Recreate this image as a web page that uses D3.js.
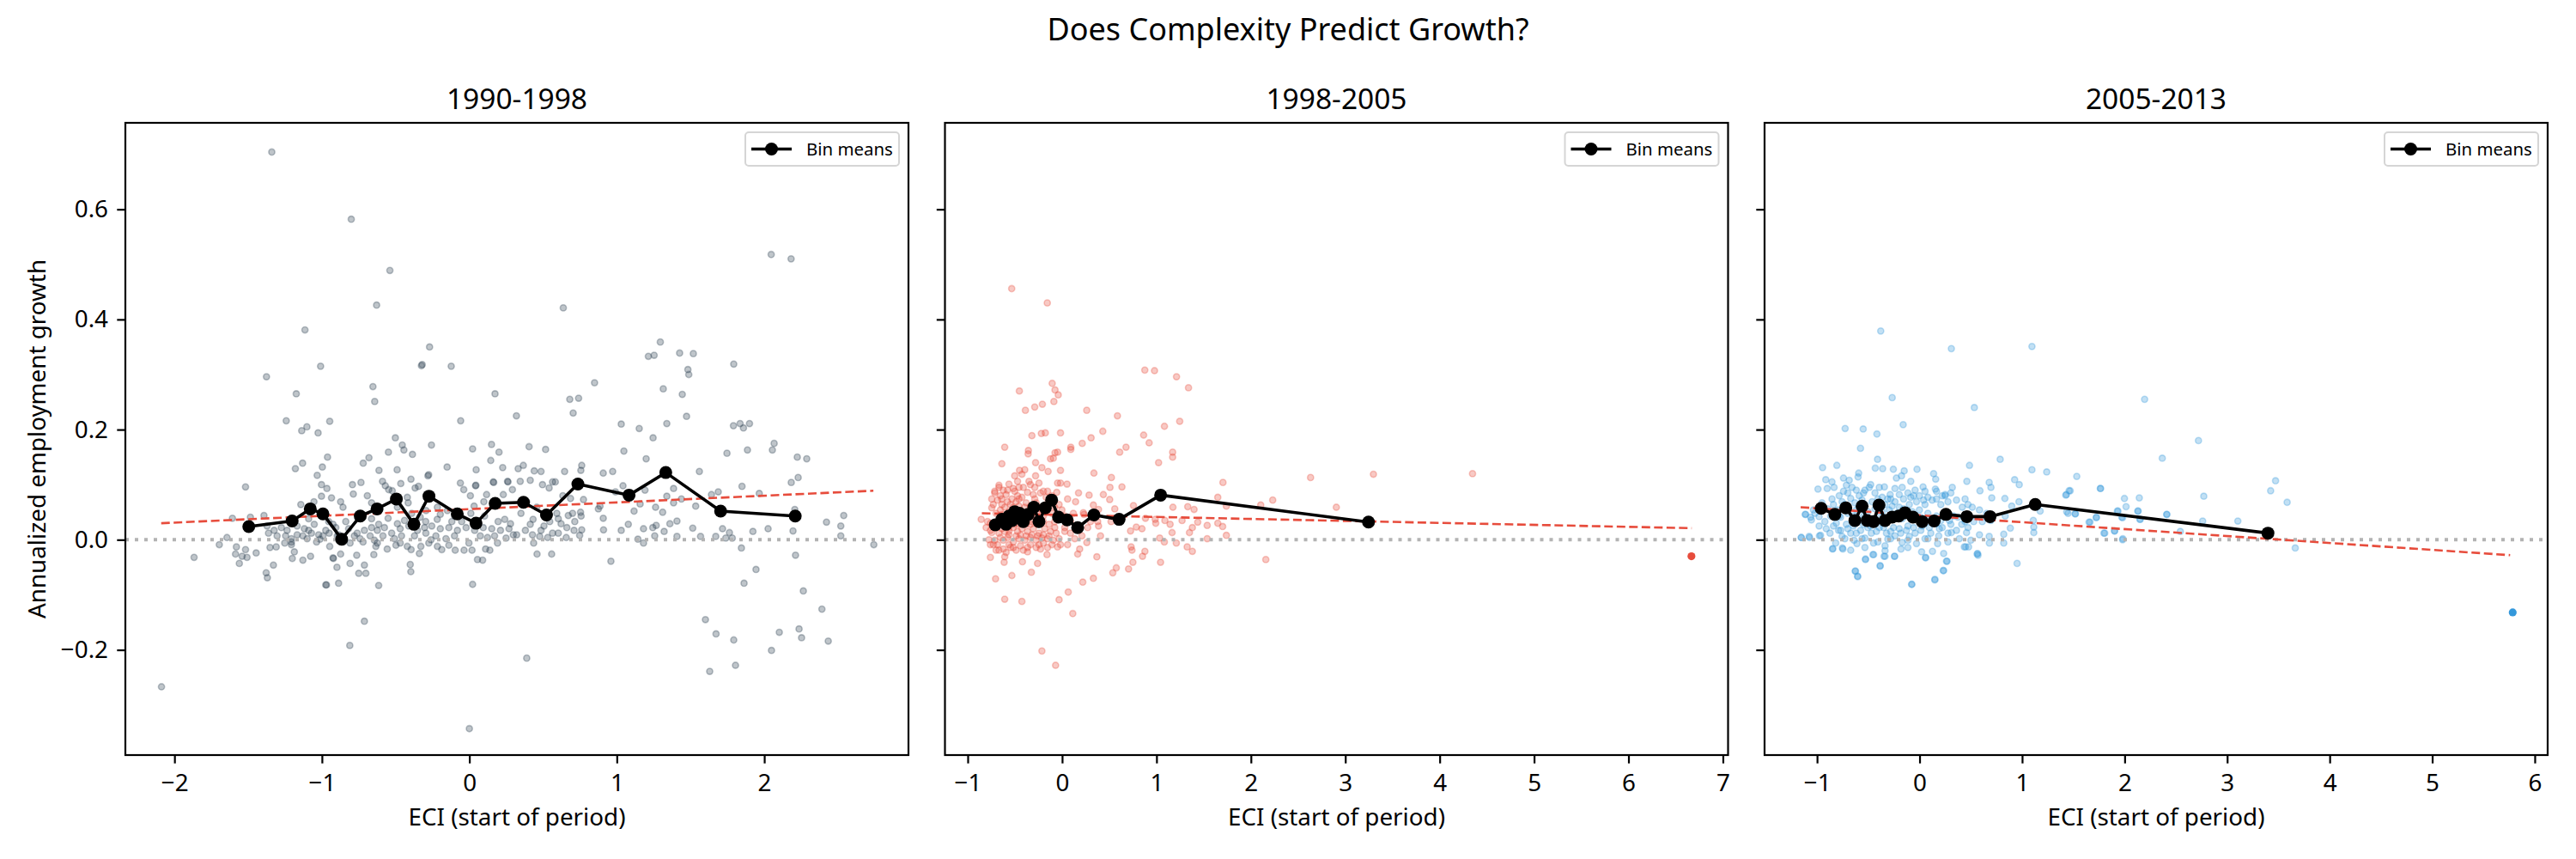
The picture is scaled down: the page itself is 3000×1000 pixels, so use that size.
<!DOCTYPE html>
<html>
<head>
<meta charset="utf-8">
<script src="https://cdn.jsdelivr.net/npm/d3@7"></script>
<style>
  body { margin: 0; background: #fff; }
  svg { font-family: "Noto Sans", "Open Sans", sans-serif; }
</style>
</head>
<body>
<svg id="chart" width="3000" height="1000"></svg>
<script>
// panel titles and colours
const periods = ['1990-1998', '1998-2005', '2005-2013'];
const pointColors = ['#2c3e50', '#e74c3c', '#3498db'];

// axis ranges and ticks
const yDomain = [-0.391, 0.757];
const yTicks = [-0.2, 0.0, 0.2, 0.4, 0.6];
const xDomain1990 = [-2.333, 2.978];
const xDomain1998 = [-1.241, 7.055];
const xDomain2005 = [-1.512, 6.126];
const xTicks1990 = [-2, -1, 0, 1, 2];
const xTicks1998 = [-1, 0, 1, 2, 3, 4, 5, 6, 7];
const xTicks2005 = [-1, 0, 1, 2, 3, 4, 5, 6];

// scatter: [ECI, annualized growth]
const scatter1990 = [
  [-1.340,0.704],[-0.801,0.582],[-0.539,0.489],[-0.629,0.426],[0.637,0.421],[2.047,0.518],[2.182,0.510],[-1.115,0.381],
  [-0.270,0.350],[1.295,0.359],[0.000,-0.343],
  [-0.325,0.316],[-0.320,0.318],[-0.123,0.315],[-1.009,0.315],[-1.376,0.296],[-1.174,0.265],[-0.654,0.278],[-0.642,0.251],
  [0.174,0.265],[0.319,0.225],[-1.242,0.216],[-0.947,0.215],[-1.137,0.198],[-1.102,0.205],[-1.026,0.194],[-0.059,0.216],
  [-0.502,0.185],[-0.455,0.172],[-0.444,0.163],[-0.257,0.172],[-0.386,0.155],[-0.549,0.159],[0.022,0.165],[0.150,0.173],
  [0.201,0.159],[0.145,0.144],[-0.962,0.150],[-0.681,0.149],[-0.720,0.139],[-0.997,0.132],[-1.131,0.139],[-1.180,0.129],
  [-0.613,0.126],[-0.490,0.127],[-0.151,0.132],[0.046,0.127],[0.226,0.131],[0.331,0.129],[-1.032,0.117],[-0.281,0.116],
  [-0.276,0.118],[-0.396,0.110],[-1.003,0.100],[-0.966,0.093],[-0.793,0.100],[-0.735,0.104],[-0.589,0.106],[-0.570,0.098],
  [-0.465,0.102],[-0.345,0.097],[-0.061,0.103],[0.042,0.098],[0.044,0.099],[0.162,0.105],[0.165,0.104],[0.259,0.106],
  [0.262,0.105],[0.292,0.091],[-1.518,0.096],[-0.787,0.083],[-0.692,0.080],[-0.547,0.091],[-0.523,0.089],[-1.003,0.079],
  [-0.935,0.076],[-0.873,0.069],[-1.143,0.064],[-1.054,0.069],[-0.663,0.067],[-0.421,0.077],[-0.368,0.094],[-0.038,0.091],
  [0.007,0.080],[0.117,0.082],[0.230,0.082],[0.032,0.061],[0.098,0.069],[-0.415,0.067],[-0.217,0.059],[-0.149,0.053],
  [0.010,0.048],[0.103,0.043],[0.195,0.033],[0.240,0.037],[0.279,0.029],[-0.052,0.033],[-0.119,0.033],[-0.218,0.037],
  [-0.296,0.033],[-0.333,0.041],[-0.440,0.035],[-0.488,0.029],[-0.551,0.039],[-0.615,0.028],[-0.663,0.022],[-0.712,0.017],
  [-0.761,0.012],[-0.819,0.020],[-0.838,0.033],[-0.906,0.022],[-0.951,0.012],[-0.993,0.007],[-1.052,0.028],[-1.090,0.017],
  [-1.129,0.007],[-1.168,0.009],[-1.207,0.002],[-1.246,0.007],[-1.275,0.022],[-1.324,0.017],[-1.362,0.012],[-1.372,0.025],
  [-1.393,0.044],[-1.485,0.041],[-1.607,0.039],[-1.644,0.004],[-1.696,-0.009],[-1.867,-0.032],[-1.580,-0.013],[-1.586,-0.026],
  [-1.560,-0.043],[-1.518,-0.018],[-1.508,-0.032],[-1.541,-0.030],[-1.446,-0.024],[-1.352,-0.014],[-1.310,-0.013],[-1.329,-0.046],
  [-1.378,-0.060],[-1.370,-0.069],[-1.201,-0.034],[-1.187,-0.022],[-1.129,-0.037],[-1.077,-0.030],[-1.207,-0.009],[-1.252,-0.006],
  [-1.100,0.002],[-1.036,-0.004],[-0.947,-0.012],[-0.974,-0.082],[-0.969,-0.082],[-0.887,-0.079],[-0.898,-0.050],[-0.925,-0.033],
  [-0.922,-0.034],[-0.873,-0.026],[-0.809,-0.043],[-0.764,-0.028],[-0.712,-0.046],[-0.750,-0.061],[-0.702,-0.061],[-0.615,-0.083],
  [-0.648,-0.027],[-0.634,-0.012],[-0.557,-0.017],[-0.498,-0.010],[-0.421,-0.012],[-0.395,-0.018],[-0.401,-0.045],[-0.397,-0.058],
  [-0.339,-0.025],[-0.329,-0.012],[-0.260,0.000],[-0.217,-0.012],[-0.187,-0.018],[-0.139,-0.010],[-0.096,-0.019],[-0.036,-0.019],
  [0.018,-0.019],[0.055,-0.036],[0.090,-0.037],[0.110,-0.017],[0.139,-0.019],[0.022,-0.081],[-0.712,-0.148],[-0.811,-0.192],
  [-2.088,-0.267],[0.074,0.007],[0.123,0.004],[0.171,0.007],[0.249,0.003],[0.298,0.009],[-0.101,0.007],[-0.159,0.002],
  [-0.227,0.007],[-0.295,0.012],[-0.372,0.007],[-0.460,0.007],[-0.508,0.002],[-0.586,0.007],[-0.644,-0.001],[-0.741,0.002],
  [-0.809,-0.006],[-0.857,-0.004],[-0.896,0.007],
  [-1.304,0.007],[-1.236,0.017],[-1.168,0.025],[-1.119,0.020],[-1.071,0.012],[-1.022,0.009],[-0.974,0.017],[-0.925,0.028],
  [-0.886,0.009],[-0.780,0.007],[-0.721,-0.004],[-0.673,0.007],[-0.624,0.017],[-0.576,0.022],[-0.527,0.012],[-0.469,0.020],
  [-0.411,0.025],[-0.352,0.017],[-0.304,0.022],[-0.255,0.025],[-0.197,0.020],[-0.139,0.022],[-0.081,0.017],[-0.022,0.022],
  [0.036,0.017],[0.094,0.022],[0.152,0.020],[0.211,0.017],[0.269,0.020],[-1.187,0.033],[-1.090,0.038],[-0.954,0.033],
  [-0.663,0.038],[-0.391,0.048],[-0.197,0.046],[-0.100,0.043],[-1.013,0.001],[-1.207,-0.004],[-0.003,-0.006],[0.191,-0.006],
  [-0.624,-0.006],[-0.469,-0.006],[-0.275,-0.006],[-0.857,0.059],[-0.488,0.059],[-0.294,0.053],
  [1.214,0.333],[1.253,0.335],[1.426,0.339],[1.519,0.338],[1.793,0.319],[1.482,0.309],[1.488,0.300],[0.849,0.285],
  [1.315,0.274],[1.444,0.264],[0.681,0.255],[0.741,0.257],[0.704,0.230],[1.473,0.224],[1.030,0.210],[1.152,0.202],
  [1.339,0.211],[1.791,0.207],[1.836,0.211],[1.859,0.203],[1.900,0.211],[1.246,0.185],[0.405,0.169],[0.517,0.164],
  [1.048,0.161],[1.747,0.157],[1.886,0.163],[2.067,0.175],[2.055,0.163],[1.199,0.147],[2.224,0.150],[2.288,0.147],
  [0.366,0.135],[0.440,0.125],[0.486,0.124],[0.646,0.124],[0.762,0.135],[0.756,0.126],[0.908,0.121],[0.972,0.124],
  [1.560,0.124],[0.345,0.106],[0.413,0.108],[0.496,0.100],[0.564,0.105],[0.583,0.105],[0.541,0.094],[1.042,0.098],
  [0.991,0.087],[1.191,0.090],[1.385,0.093],[1.849,0.097],[2.183,0.104],[2.230,0.113],[1.642,0.082],[1.688,0.087],
  [1.966,0.084],[0.634,0.080],[0.686,0.075],[0.774,0.073],[0.886,0.061],[0.875,0.056],[1.158,0.065],[1.339,0.079],
  [1.385,0.067],[1.438,0.074],[1.535,0.061],[1.263,0.059],[1.311,0.050],[1.117,0.052],[0.908,0.039],[0.593,0.048],
  [0.671,0.044],[0.754,0.050],[0.758,0.043],[0.432,0.037],[0.413,0.028],[0.506,0.025],[0.622,0.029],[0.715,0.033],
  [1.078,0.028],[1.267,0.026],[1.360,0.029],[1.408,0.034],[2.207,0.055],[2.422,0.032],[2.539,0.044],[2.519,0.025],
  [2.519,0.007],[0.321,0.009],[0.428,0.009],[0.477,0.006],[0.531,0.004],[0.603,0.012],[0.710,0.017],[0.762,0.018],
  [0.657,0.004],[0.748,0.008],[0.910,0.018],[1.030,0.017],[1.181,0.020],[1.244,0.022],[1.321,0.015],[1.257,0.007],
  [1.143,0.001],[1.181,-0.006],[1.408,0.006],[1.515,0.021],[1.568,0.006],[1.671,0.006],[1.717,0.020],[1.764,0.013],
  [1.739,0.003],[1.783,0.003],[1.923,0.015],[2.026,0.020],[2.195,0.016],[2.743,-0.009],[0.436,-0.006],[0.459,-0.026],
  [0.558,-0.026],[0.960,-0.039],[1.845,-0.015],[2.212,-0.028],[1.944,-0.054],[1.863,-0.079],[2.265,-0.093],[2.391,-0.126],
  [1.601,-0.145],[1.673,-0.171],[1.793,-0.182],[2.102,-0.168],[2.236,-0.162],[2.253,-0.178],[2.434,-0.184],[2.049,-0.201],
  [1.630,-0.239],[1.805,-0.228],[0.389,-0.215],
  [0.350,0.048],[0.389,0.069],[0.457,0.059],[0.545,0.033],[0.603,0.038],[0.661,0.022],[0.380,0.017],[0.486,0.017],
  [0.564,0.012],[0.700,0.048]
];

const scatter1998 = [
  [-0.534,0.456],[-0.157,0.430],[0.876,0.308],[0.979,0.307],[1.212,0.296],[1.339,0.276],[-0.453,0.270],[-0.105,0.284],
  [-0.075,0.272],[-0.041,0.263],[-0.087,0.251],[-0.209,0.246],[-0.290,0.241],[-0.389,0.235],[0.261,0.235],[0.586,0.225],
  [1.246,0.215],[1.084,0.206],
  [-0.320,0.189],[-0.220,0.193],[-0.178,0.194],[-0.017,0.194],[0.431,0.197],[0.864,0.190],[0.922,0.176],[-0.608,0.168],
  [-0.357,0.162],[-0.360,0.156],[0.092,0.168],[0.092,0.164],[0.213,0.175],[0.307,0.185],[0.610,0.159],[0.677,0.168],
  [1.171,0.159],[1.171,0.150],[1.022,0.140],[-0.075,0.158],[-0.048,0.159],[-0.093,0.148],[-0.123,0.147],[-0.638,0.138],
  [-0.281,0.140],[-0.214,0.131],[-0.148,0.124],[-0.017,0.126],[-0.451,0.126],[-0.396,0.127],[-0.502,0.116],[-0.426,0.119],
  [-0.281,0.116],[0.337,0.121],[0.522,0.113],[-0.472,0.106],[-0.336,0.100],[-0.245,0.103],[-0.048,0.103],[-0.017,0.103],
  [0.052,0.101],[0.507,0.095],[0.634,0.096],[1.704,0.104],[-0.669,0.099],[-0.563,0.101],[-0.714,0.088],[-0.623,0.090],
  [-0.517,0.093],[-0.366,0.086],[-0.154,0.088],[-0.057,0.086],[0.174,0.085],[0.286,0.081],[0.437,0.082],[1.649,0.077],
  [2.231,0.072],[-0.745,0.074],[-0.639,0.074],[-0.457,0.074],[-0.290,0.074],[0.058,0.074],[0.143,0.069],[0.504,0.073],
  [0.756,0.062],[1.174,0.059],[1.331,0.060],[1.398,0.055],[1.740,0.061],[2.104,0.063],[0.558,0.056],[-0.745,0.058],
  [0.225,0.049],[0.331,0.063],[0.386,0.055],[-0.857,0.037],[-0.760,0.030],[-0.563,0.016],[-0.336,0.028],[-0.199,0.043],
  [-0.078,0.022],[0.028,0.015],[0.119,0.048],[0.231,0.046],[0.377,0.033],[0.386,0.025],[0.407,0.007],[0.519,0.033],
  [0.725,0.016],[0.786,0.023],[0.846,0.020],[0.883,0.039],[0.986,0.037],[0.992,0.030],[1.089,0.035],[1.144,0.028],
  [1.165,0.013],[1.271,0.035],[1.349,0.013],[1.380,0.022],[1.437,0.032],[1.537,0.026],[1.649,0.030],[1.701,0.024],
  [1.740,0.008],[1.537,0.002],[1.034,0.003],[1.083,-0.004],[1.210,-0.006],[1.325,-0.013],[1.380,-0.021],[0.731,-0.013],
  [0.740,-0.019],[0.877,-0.021],[0.852,-0.030],[0.750,-0.041],[0.704,-0.053],[1.043,-0.041],[0.574,-0.051],[0.537,-0.060],
  [0.368,-0.031],[0.331,-0.070],[0.219,-0.077],[0.262,-0.005],[0.165,-0.026],[0.186,-0.017],[0.065,-0.095],[-0.032,-0.109],
  [0.113,-0.134],[-0.260,-0.043],[-0.326,-0.059],[-0.420,-0.040],[-0.532,-0.065],[-0.608,-0.108],[-0.426,-0.112],[-0.705,-0.071],
  [-0.760,-0.032],[-0.669,-0.019],[-0.608,-0.031],[-0.614,-0.041],[-0.760,-0.009],[-0.775,0.000],[-0.547,-0.014],[-0.411,-0.019],
  [-0.366,-0.022],[-0.229,-0.017],[-0.160,-0.027],[-0.048,-0.013],[0.058,-0.009],[-0.214,-0.202],[-0.069,-0.228],[2.158,-0.036],
  [-0.714,-0.001],[-0.669,0.012],[-0.623,-0.001],[-0.578,0.004],[-0.517,-0.004],[-0.457,0.002],[-0.396,-0.001],[-0.335,0.004],
  [-0.275,-0.001],[-0.214,0.003],[-0.154,0.002],[-0.093,-0.001],[-0.032,0.002],[-0.699,0.022],[-0.638,0.020],[-0.593,0.028],
  [-0.517,0.022],[-0.472,0.015],[-0.426,0.020],[-0.366,0.015],[-0.305,0.020],[-0.245,0.012],[-0.184,0.020],[-0.123,0.015],
  [-0.063,0.012],[-0.699,0.048],[-0.654,0.054],[-0.608,0.059],[-0.548,0.064],[-0.487,0.069],[-0.426,0.077],[-0.381,0.067],
  [-0.335,0.061],[-0.275,0.067],[-0.214,0.054],[-0.169,0.064],[-0.108,0.048],[-0.032,0.064],[-0.002,0.054],[0.028,0.043],
  [0.089,0.033],[0.149,0.022],[0.210,0.007],[0.271,0.022],[0.301,0.033],[-0.714,0.085],[-0.654,0.080],[-0.593,0.082],
  [-0.532,0.074],[-0.472,0.080],[-0.411,0.095],[-0.351,0.106],[-0.290,0.095],[-0.229,0.085],[-0.169,0.077],[-0.108,0.080],
  [-0.487,0.048],[-0.426,0.043],[-0.335,0.043],[-0.275,0.038],[-0.548,0.033],[-0.457,0.028],[-0.684,-0.009],[-0.623,-0.017],
  [-0.563,-0.009],[-0.487,-0.019],[-0.335,-0.009],[-0.275,-0.014],[-0.199,-0.006],[-0.108,-0.009],
  [-0.745,0.013],[-0.729,-0.009],[-0.654,0.004],[-0.608,0.015],[-0.563,0.009],[-0.487,0.007],[-0.441,0.009],[-0.381,0.007],
  [-0.320,0.009],[-0.260,0.007],[-0.199,0.009],[-0.138,0.007],[-0.729,0.028],[-0.669,0.033],[-0.623,0.028],[-0.563,0.022],
  [-0.502,0.028],[-0.441,0.033],[-0.381,0.028],[-0.320,0.033],[-0.260,0.028],[-0.199,0.033],[-0.138,0.028],[-0.078,0.033],
  [-0.729,0.064],[-0.684,0.072],[-0.638,0.064],[-0.578,0.069],[-0.517,0.059],[-0.457,0.061],[-0.396,0.059],[-0.305,0.054],
  [-0.245,0.059],[-0.154,0.054],[-0.078,0.059],[-0.669,0.095],[-0.578,0.090],[-0.502,0.088],[-0.457,0.095],[-0.305,0.082],
  [-0.199,0.088],[-0.699,-0.019],[-0.593,-0.023],[-0.517,-0.014],[-0.441,-0.011],[-0.366,-0.014],[-0.245,-0.009],[-0.154,-0.014],
  [-0.638,0.046],[-0.563,0.051],[-0.366,0.043],[-0.245,0.046],[-0.048,0.041],[0.028,0.022],[0.089,0.012],[0.134,0.002],
  [-0.017,-0.009],[-0.760,0.017],[-0.805,0.022],[-0.790,0.033],
  [4.348,0.120],[3.298,0.119],[2.632,0.113],[2.905,0.059]
];

const scatter2005 = [
  [-0.379,0.379],[0.310,0.347],[1.096,0.351],[-0.267,0.258],[0.534,0.240],[2.195,0.255],[-0.160,0.209],[-0.726,0.202],
  [-0.550,0.201],[2.720,0.180],[-0.416,0.192],[-0.576,0.166],[2.367,0.148],[0.786,0.146],[0.487,0.135],[1.096,0.127],
  [1.240,0.123],[1.533,0.115],[3.472,0.107],[3.424,0.089],[3.585,0.068],[1.763,0.093],[1.458,0.089],[1.426,0.081],
  [1.998,0.075],[2.143,0.076],[2.772,0.079],[2.014,0.060],[2.132,0.052],[1.929,0.052],[2.410,0.046],[1.972,0.041],
  [2.148,0.037],[2.761,0.034],[3.104,0.034],[1.448,0.048],[1.518,0.047],[1.725,0.041],[1.662,0.032],[1.902,0.016],
  [1.806,0.012],[1.982,0.002],[2.543,0.015],[3.664,-0.015],[0.951,-0.043],[-0.075,-0.081],[0.150,-0.072],[-0.625,-0.057],
  [-0.603,-0.067],[-0.384,-0.048],[-0.528,-0.036],[-0.849,-0.017],[-0.753,-0.015],[0.230,-0.056],[0.262,-0.039],[0.058,-0.032],
  [0.566,-0.025],[0.449,-0.013],[-0.347,-0.030],[-0.245,-0.030],[-0.448,-0.027],[-1.153,0.004],[-1.074,0.004],[-0.977,0.007],
  [-1.116,0.046],[-0.946,0.131],[-0.807,0.135],
  [-0.410,0.146],[-0.432,0.130],[-0.360,0.129],[-0.256,0.128],[-0.150,0.125],[-0.025,0.128],[-0.594,0.121],[-0.600,0.114],
  [-0.742,0.112],[-0.686,0.108],[-0.915,0.109],[-0.854,0.105],[-0.226,0.112],[-0.176,0.116],[-0.086,0.106],[0.137,0.120],
  [0.157,0.110],[0.461,0.106],[0.679,0.104],[0.696,0.095],[0.927,0.109],[0.972,0.100],[-0.991,0.092],[-0.901,0.093],
  [-0.834,0.095],[-0.714,0.099],[-0.491,0.095],[-0.393,0.095],[-0.343,0.096],[-0.287,0.082],[-0.198,0.082],[-0.114,0.085],
  [0.034,0.096],[0.154,0.092],[0.249,0.082],[0.319,0.095],[0.589,0.089],[0.704,0.076],[0.832,0.075],[1.432,0.082],
  [1.469,0.089],[1.765,0.093],[1.935,0.052],[2.128,0.052],[2.412,0.046],[1.980,0.040],[2.153,0.037],[1.723,0.040],
  [1.653,0.032],[1.798,0.012],[1.902,0.016],[1.980,0.000],[1.435,0.051],[1.519,0.047],[1.109,0.035],[1.114,0.023],
  [1.114,0.013],[1.176,0.052],[0.969,0.069],[0.899,0.061],[0.835,0.043],[0.885,0.021],[0.821,0.010],[0.821,-0.006],
  [0.679,0.006],[0.681,-0.006],[0.584,0.009],[0.500,-0.001],[0.436,-0.013],[0.478,-0.013],[0.561,-0.026],[0.570,-0.028],
  [0.235,-0.025],[0.268,-0.039],[0.235,-0.056],[0.148,-0.073],[-0.078,-0.081],[0.059,-0.033],[0.020,-0.022],[0.126,-0.021],
  [0.176,-0.007],[-0.243,-0.030],[-0.181,-0.017],[-0.337,-0.020],[-0.337,-0.030],[-0.385,-0.047],[-0.455,-0.027],[-0.527,-0.035],
  [-0.605,-0.066],[-0.628,-0.057],[-0.611,-0.007],[-0.748,-0.017],[-0.846,-0.016],[-0.818,-0.006],[-0.966,0.008],[-1.077,0.006],
  [-1.155,0.004],[-1.111,0.046],[-1.055,0.036],[-0.980,0.042],[-0.924,0.033],[-0.874,0.012],[-0.790,0.017],[-0.756,0.006],
  [-0.672,0.012],[-0.639,-0.001],[-0.533,0.003],[-0.471,0.012],[-0.407,-0.004],[-0.310,0.001],[-0.240,0.007],[-0.170,-0.005],
  [-0.100,0.006],[-0.030,-0.007],[0.053,0.002],[0.187,0.007],[0.310,0.013],[0.388,0.002],[0.458,0.013],[0.472,0.022],
  [0.411,0.028],[0.305,0.028],[0.221,0.022],[0.165,0.029],[0.095,0.022],[0.012,0.017],[-0.058,0.022],[-0.128,0.017],
  [-0.198,0.020],[-0.282,0.015],[-0.351,0.022],[-0.421,0.015],[-0.505,0.022],[-0.575,0.017],[-0.645,0.025],[-0.714,0.028],
  [-0.812,0.030],[-0.868,0.043],[-0.798,0.054],[-0.728,0.064],[-0.672,0.075],[-0.589,0.080],[-0.533,0.064],[-0.463,0.069],
  [-0.337,0.064],[-0.268,0.061],[-0.198,0.059],[-0.100,0.064],[-0.030,0.069],[0.053,0.064],[0.123,0.072],[0.207,0.064],
  [0.277,0.069],[0.360,0.072],[0.416,0.059],[0.514,0.059],[0.584,0.054],[0.654,0.048],[0.695,0.035],[0.612,0.033],
  [0.528,0.033],[0.333,0.043],[0.249,0.048],[0.165,0.043],[0.081,0.048],[-0.002,0.054],[-0.100,0.043],[-0.170,0.038],
  [-0.240,0.043],[-0.310,0.041],[-0.393,0.043],[-0.463,0.038],[-0.547,0.043],[-0.617,0.054],[-0.700,0.048],[-0.770,0.041],
  [-0.896,0.056],[-0.952,0.067],[-1.035,0.054],[-1.063,0.041],[-0.854,0.074],[-0.784,0.080],[-0.700,0.085],[-0.617,0.090],
  [-0.547,0.085],[-0.435,0.085],[-0.365,0.077],[-0.282,0.074],[-0.170,0.095],[-0.086,0.077],[-0.002,0.080],[0.081,0.077],
  [0.221,0.080],[0.305,0.085],[0.444,0.074],[0.472,0.064],
  [-1.021,0.048],[-0.980,0.025],[-0.910,0.020],[-0.840,0.025],[-0.770,0.017],[-0.700,0.020],[-0.617,0.012],[-0.547,0.028],
  [-0.477,0.025],[-0.393,0.022],[-0.323,0.012],[-0.254,0.022],[-0.184,0.012],[-0.114,0.025],[-0.044,0.012],[0.025,0.025],
  [0.109,0.012],[0.193,0.020],[0.277,0.012],[0.360,0.017],[0.444,0.033],[-0.784,0.043],[-0.714,0.054],[-0.645,0.043],
  [-0.575,0.056],[-0.505,0.051],[-0.435,0.056],[-0.365,0.051],[-0.296,0.054],[-0.226,0.048],[-0.156,0.056],[-0.072,0.051],
  [0.012,0.041],[0.095,0.038],[0.207,0.035],[0.291,0.035],[0.374,0.041],[-0.840,0.064],[-0.756,0.069],[-0.631,0.067],
  [-0.561,0.072],[-0.407,0.074],[-0.310,0.074],[-0.240,0.069],[-0.156,0.074],[-0.058,0.080],[0.039,0.072],[0.165,0.074],
  [0.249,0.080],[-0.742,0.088],[-0.659,0.095],[-0.533,0.090],[-0.477,0.100],[-0.240,0.093],[-0.044,0.090],[0.053,0.088],
  [0.165,0.088],[-0.728,0.002],[-0.561,0.002],[-0.449,-0.006],[-0.282,0.002],[-0.114,-0.001],[0.081,0.002],[0.277,-0.004],
  [-0.533,-0.014],[-0.337,-0.011],[-0.114,-0.014],[-0.672,-0.019]
];

// largest-ECI country, drawn solid
const highlight1998 = [[6.667, -0.030]];
const highlight2005 = [[5.785, -0.132]];

// bin means
const bins1990 = [
  [-1.496,0.024],[-1.202,0.034],[-1.079,0.056],[-0.993,0.047],[-0.866,0.001],[-0.740,0.043],[-0.626,0.056],[-0.495,0.074],
  [-0.376,0.028],[-0.274,0.079],[-0.082,0.047],[0.045,0.030],[0.175,0.066],[0.367,0.068],[0.523,0.045],[0.736,0.101],
  [1.083,0.081],[1.332,0.122],[1.704,0.052],[2.210,0.043]
];
const bins1998 = [
  [-0.708,0.027],[-0.638,0.037],[-0.593,0.028],[-0.563,0.043],[-0.530,0.035],[-0.502,0.051],[-0.451,0.048],[-0.411,0.033],
  [-0.360,0.046],[-0.299,0.059],[-0.245,0.033],[-0.178,0.058],[-0.111,0.072],[-0.038,0.041],[0.053,0.036],[0.165,0.022],
  [0.337,0.045],[0.604,0.037],[1.044,0.081],[3.246,0.032]
];
const bins2005 = [
  [-0.960,0.057],[-0.826,0.046],[-0.720,0.058],[-0.631,0.035],[-0.561,0.061],[-0.511,0.035],[-0.449,0.033],[-0.396,0.063],
  [-0.337,0.035],[-0.268,0.041],[-0.204,0.043],[-0.142,0.049],[-0.064,0.041],[0.025,0.033],[0.142,0.034],[0.257,0.046],
  [0.461,0.042],[0.687,0.042],[1.128,0.064],[3.398,0.012]
];

// OLS fit line end points
const fit1990 = [[-2.09, 0.030], [2.74, 0.089]];
const fit1998 = [[-0.85, 0.048], [6.67, 0.021]];
const fit2005 = [[-1.16, 0.059], [5.76, -0.028]];

const panels = [
  {title: periods[0], color: pointColors[0], scatter: scatter1990, highlight: [], bins: bins1990, fit: fit1990, xDomain: xDomain1990, xTicks: xTicks1990},
  {title: periods[1], color: pointColors[1], scatter: scatter1998, highlight: highlight1998, bins: bins1998, fit: fit1998, xDomain: xDomain1998, xTicks: xTicks1998},
  {title: periods[2], color: pointColors[2], scatter: scatter2005, highlight: highlight2005, bins: bins2005, fit: fit2005, xDomain: xDomain2005, xTicks: xTicks2005}
];

const svg = d3.select('#chart');
const lefts = [146, 1100.5, 2055];
const plotTop = 143, W = 912, H = 736;
const fontFamily = '"Noto Sans", "Open Sans", sans-serif';
const minus = s => s.replace('-', '\u2212');

svg.append('text')
  .attr('x', 1500).attr('y', 47)
  .attr('text-anchor', 'middle')
  .style('font-size', '36px')
  .text('Does Complexity Predict Growth?');

const y = d3.scaleLinear().domain(yDomain).range([H, 0]);

panels.forEach((p, i) => {
  const g = svg.append('g').attr('transform', `translate(${lefts[i]},${plotTop})`);
  const x = d3.scaleLinear().domain(p.xDomain).range([0, W]);

  g.append('g').selectAll('circle')
    .data(p.scatter)
    .join('circle')
    .attr('cx', d => x(d[0]))
    .attr('cy', d => y(d[1]))
    .attr('r', 3.6)
    .attr('fill', p.color).attr('fill-opacity', 0.3)
    .attr('stroke', p.color).attr('stroke-opacity', 0.3).attr('stroke-width', 1.6);

  g.append('g').selectAll('circle')
    .data(p.highlight)
    .join('circle')
    .attr('cx', d => x(d[0]))
    .attr('cy', d => y(d[1]))
    .attr('r', 4.6)
    .attr('fill', p.color);

  // zero reference
  g.append('line')
    .attr('x1', 0).attr('x2', W)
    .attr('y1', y(0)).attr('y2', y(0))
    .attr('stroke', '#b3b3b3').attr('stroke-width', 4)
    .attr('stroke-dasharray', '4 7');

  const line = d3.line().x(d => x(d[0])).y(d => y(d[1]));

  g.append('path')
    .datum(p.fit)
    .attr('d', line)
    .attr('fill', 'none')
    .attr('stroke', '#e74c3c').attr('stroke-width', 2.6)
    .attr('stroke-dasharray', '10 4.5');

  g.append('path')
    .datum(p.bins)
    .attr('d', line)
    .attr('fill', 'none')
    .attr('stroke', '#000').attr('stroke-width', 3.6)
    .attr('stroke-linejoin', 'round');

  g.append('g').selectAll('circle')
    .data(p.bins)
    .join('circle')
    .attr('cx', d => x(d[0]))
    .attr('cy', d => y(d[1]))
    .attr('r', 7.5)
    .attr('fill', '#000');

  // axes
  const xAxis = d3.axisBottom(x)
    .tickValues(p.xTicks)
    .tickSize(9.7).tickSizeOuter(0).tickPadding(13)
    .tickFormat(d => minus(d3.format('d')(d)));
  const gx = g.append('g').attr('transform', `translate(0,${H})`).call(xAxis);

  const yAxis = d3.axisLeft(y)
    .tickValues(yTicks)
    .tickSize(9.7).tickSizeOuter(0).tickPadding(10.3)
    .tickFormat(d => i === 0 ? minus(d3.format('.1f')(d)) : '');
  const gy = g.append('g').call(yAxis);

  [gx, gy].forEach(a => {
    a.select('.domain').remove();
    a.selectAll('line').attr('stroke', '#000').attr('stroke-width', 2.2);
    a.selectAll('text').attr('fill', '#000').style('font-size', '27.8px').style('font-family', fontFamily);
  });

  g.append('rect')
    .attr('width', W).attr('height', H)
    .attr('fill', 'none')
    .attr('stroke', '#000').attr('stroke-width', 2.2);

  g.append('text')
    .attr('x', W / 2).attr('y', -16)
    .attr('text-anchor', 'middle')
    .style('font-size', '33.5px')
    .text(p.title);

  g.append('text')
    .attr('x', W / 2).attr('y', 818)
    .attr('text-anchor', 'middle')
    .style('font-size', '27.8px')
    .text('ECI (start of period)');

  if (i === 0) {
    g.append('text')
      .attr('transform', `translate(${53 - lefts[0]},${H / 2}) rotate(-90)`)
      .attr('text-anchor', 'middle')
      .style('font-size', '27.8px')
      .text('Annualized employment growth');
  }

  // legend
  const lg = g.append('g').attr('transform', `translate(${W - 11 - 179},11)`);
  lg.append('rect')
    .attr('width', 179).attr('height', 39).attr('rx', 4)
    .attr('fill', '#fff').attr('fill-opacity', 0.8)
    .attr('stroke', '#d5d5d5').attr('stroke-width', 2);
  lg.append('line')
    .attr('x1', 7).attr('x2', 54).attr('y1', 19.5).attr('y2', 19.5)
    .attr('stroke', '#000').attr('stroke-width', 3.6);
  lg.append('circle').attr('cx', 30.5).attr('cy', 19.5).attr('r', 7.5).attr('fill', '#000');
  lg.append('text')
    .attr('x', 71).attr('y', 26.5)
    .style('font-size', '20.4px')
    .text('Bin means');
});
</script>
</body>
</html>
